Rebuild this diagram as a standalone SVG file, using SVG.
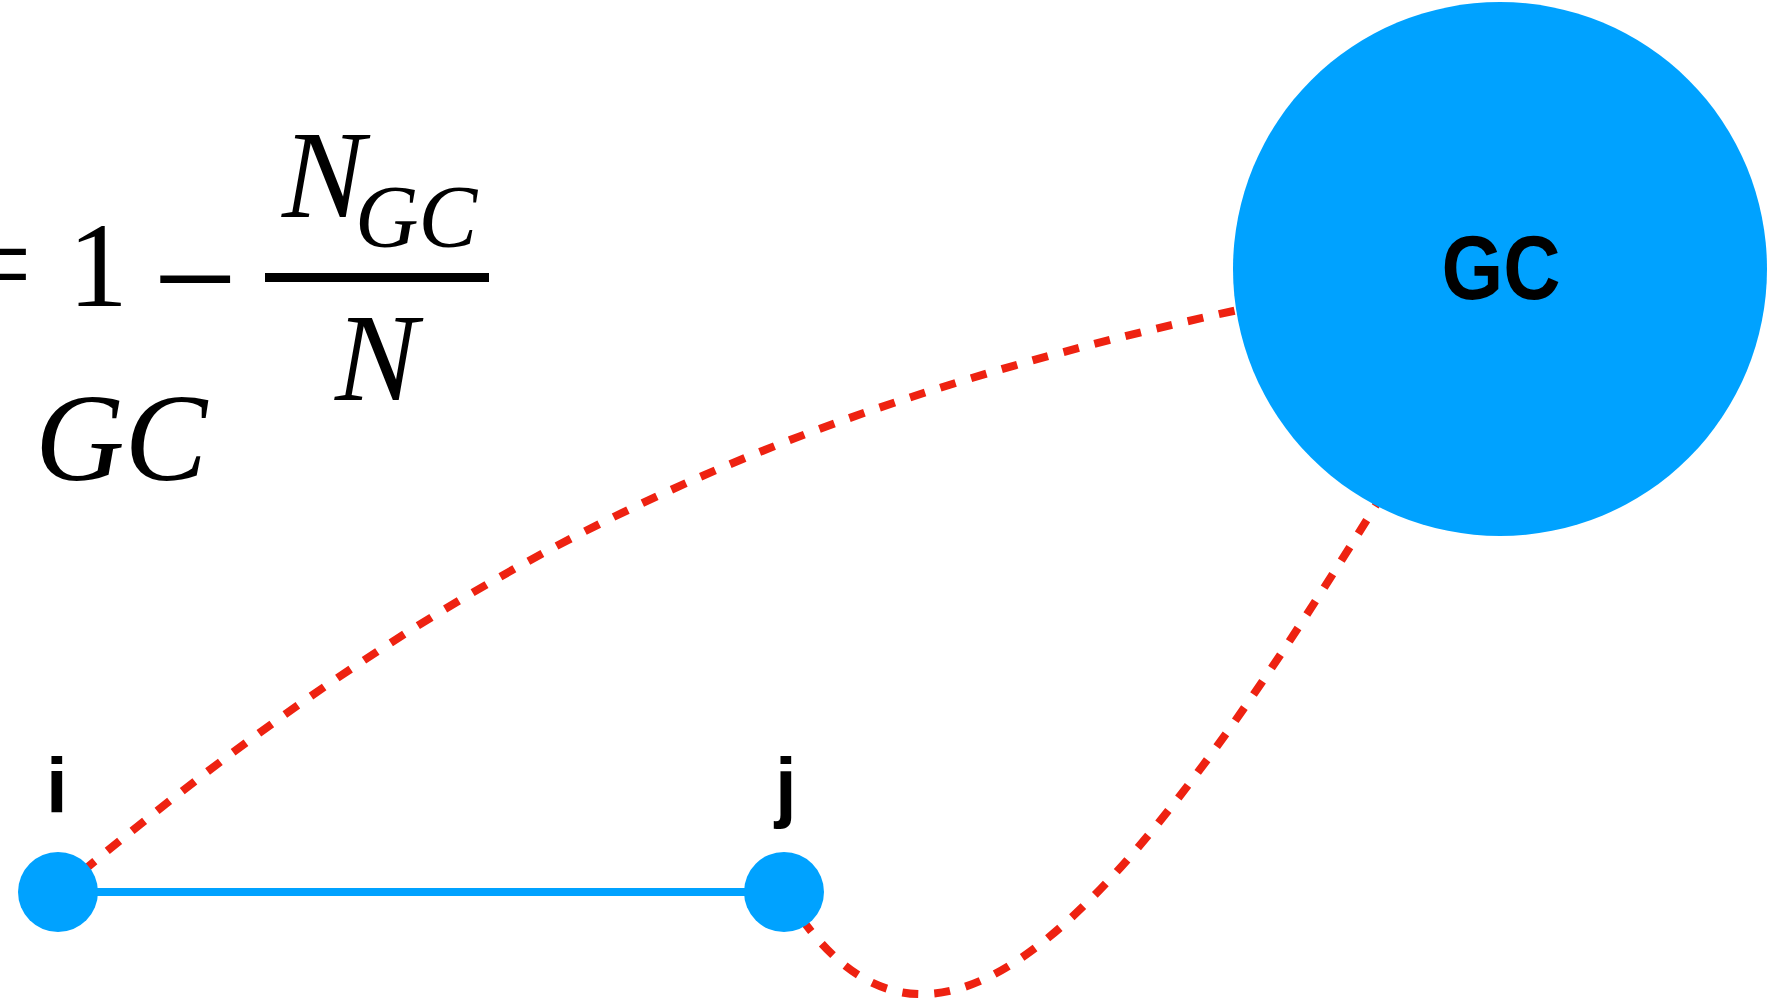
<svg xmlns="http://www.w3.org/2000/svg" width="1768" height="1008" viewBox="0 0 1768 1008">
<style>
.node{fill:#00A2FF}
.edge{fill:none;stroke:#00A2FF;stroke-width:8}
.link{fill:none;stroke:#EE2211;stroke-width:8;stroke-dasharray:16 16}
.math{font-family:"Liberation Serif","Times New Roman",serif;fill:#000}
.mi{font-style:italic}
.lbl{font-family:"Liberation Sans",Arial,sans-serif;font-weight:bold;fill:#000}
</style>
<rect width="1768" height="1008" fill="#fff"/>
<g id="formula">
<text class="math" x="-38" y="306" font-size="124">=</text>
<text class="math" x="68" y="306" font-size="120">1</text>
<text class="math" x="153" y="329" font-size="150">−</text>
<rect x="265" y="273" width="224" height="9" fill="#000"/>
<text class="math mi" x="282" y="217" font-size="124">N</text>
<text class="math mi" x="355" y="246" font-size="88">GC</text>
<text class="math mi" x="335" y="400" font-size="124">N</text>
<text class="math mi" x="35" y="480" font-size="124">GC</text>
</g>
<g id="connectors">
<line class="edge" x1="58" y1="892" x2="784" y2="892"/>
<path class="link" d="M58,892 C440,569 750,416 1238,310 L1330,292"/>
<path class="link" d="M784,892 C930,1135 1120,920 1376,505 L1420,440"/>
</g>
<g id="node-GC">
<circle class="node" cx="1500" cy="269" r="267"/>
<text class="lbl" x="1501" y="299" font-size="90" text-anchor="middle" textLength="119" lengthAdjust="spacingAndGlyphs">GC</text>
</g>
<g id="node-i">
<circle class="node" cx="58" cy="892" r="40"/>
<text class="lbl" x="46" y="813" font-size="78">i</text>
</g>
<g id="node-j">
<circle class="node" cx="784" cy="892" r="40"/>
<text class="lbl" x="775" y="813" font-size="78">j</text>
</g>
</svg>
